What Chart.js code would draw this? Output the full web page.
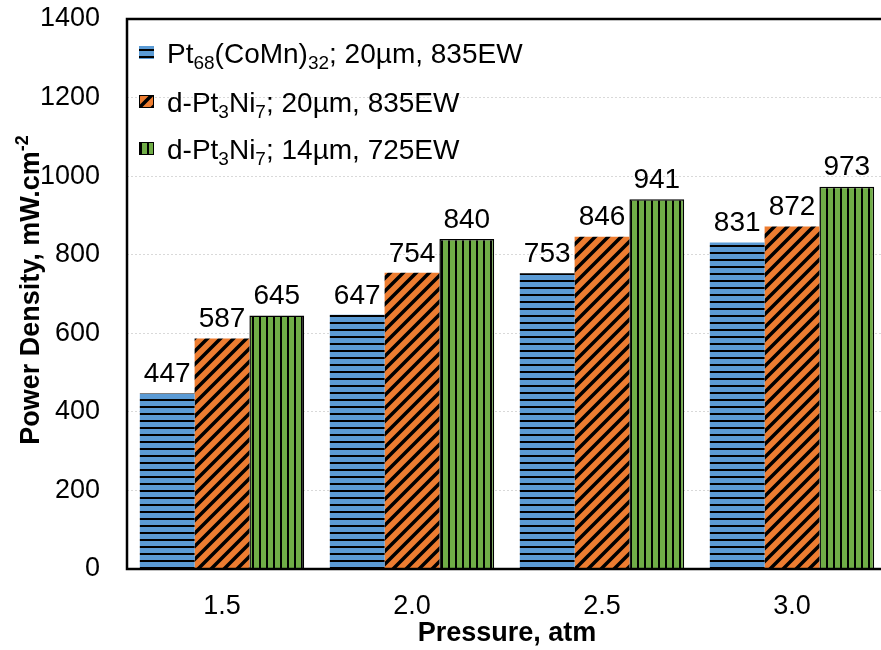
<!DOCTYPE html>
<html>
<head>
<meta charset="utf-8">
<script src="https://cdn.jsdelivr.net/npm/chart.js@4.4.0/dist/chart.umd.min.js"></script>
<style>
	body { margin: 0; overflow: hidden; background: #fff; }
	#wrap { width: 890px; height: 650px; }
</style>
</head>
<body>
<div id="wrap"><canvas id="power-chart"></canvas></div>
<script>
// data
const pressures = ['1.5', '2.0', '2.5', '3.0'];
const ptCoMn = [447, 647, 753, 831];
const ptNi20 = [587, 754, 846, 872];
const ptNi14 = [645, 840, 941, 973];
const yTicks = [0, 200, 400, 600, 800, 1000, 1200, 1400];

// legend text, [text, isSubscript]
const legendRows = [
	[['Pt', 0], ['68', 1], ['(CoMn)', 0], ['32', 1], ['; 20µm, 835EW', 0]],
	[['d-Pt', 0], ['3', 1], ['Ni', 0], ['7', 1], ['; 20µm, 835EW', 0]],
	[['d-Pt', 0], ['3', 1], ['Ni', 0], ['7', 1], ['; 14µm, 725EW', 0]]
];

const FONT = '"Liberation Sans", Arial, sans-serif';
const BLUE = '#5B9BD5';
const ORANGE = '#ED7D31';
const GREEN = '#70AD47';

// fill patterns like the excel ones
function makePattern(bg, kind) {
	const c = document.createElement('canvas');
	const x = c.getContext('2d');
	if (kind === 'h') {
		c.width = 8; c.height = 7;
		x.fillStyle = bg; x.fillRect(0, 0, 8, 7);
		x.fillStyle = '#000'; x.fillRect(0, 0, 8, 2);
	} else if (kind === 'v') {
		c.width = 7; c.height = 8;
		x.fillStyle = bg; x.fillRect(0, 0, 7, 8);
		x.fillStyle = '#000'; x.fillRect(0, 0, 2, 8);
	} else {
		c.width = 13; c.height = 13;
		x.fillStyle = bg; x.fillRect(0, 0, 13, 13);
		x.strokeStyle = '#000'; x.lineWidth = 3.5;
		x.beginPath();
		x.moveTo(-2, 15); x.lineTo(15, -2);
		x.moveTo(-8, 8); x.lineTo(8, -8);
		x.moveTo(5, 21); x.lineTo(21, 5);
		x.stroke();
	}
	return x.createPattern(c, 'repeat');
}

const patBlue = makePattern(BLUE, 'h');
const patOrange = makePattern(ORANGE, 'd');
const patGreen = makePattern(GREEN, 'v');

// labels above bars, border box, legend and y title
const extras = {
	id: 'extras',
	afterDatasetsDraw(chart) {
		const ctx = chart.ctx;
		const area = chart.chartArea;
		ctx.save();
		ctx.font = '28px ' + FONT;
		ctx.fillStyle = '#000';
		ctx.textAlign = 'center';
		ctx.textBaseline = 'bottom';
		chart.data.datasets.forEach((ds, i) => {
			chart.getDatasetMeta(i).data.forEach((bar, j) => {
				ctx.fillText(ds.data[j], bar.x, bar.y - 5);
			});
		});

		// plot frame
		ctx.strokeStyle = '#000';
		ctx.lineWidth = 2.5;
		ctx.strokeRect(area.left, area.top, area.right - area.left, area.bottom - area.top);

		// legend
		const pats = [patBlue, patOrange, patGreen];
		const rowY = [63, 112, 159];
		ctx.textAlign = 'left';
		ctx.textBaseline = 'alphabetic';
		legendRows.forEach((row, r) => {
			const by = rowY[r] - 17;
			ctx.fillStyle = pats[r];
			ctx.fillRect(139, by, 15, 13);
			if (r > 0) {
				ctx.strokeStyle = '#000';
				ctx.lineWidth = 1;
				ctx.strokeRect(139.5, by + 0.5, 14, 12);
			}
			let x = 167;
			ctx.fillStyle = '#000';
			row.forEach(([t, sub]) => {
				ctx.font = (sub ? '19px ' : '28px ') + FONT;
				ctx.fillText(t, x, rowY[r] + (sub ? 6 : 0));
				x += ctx.measureText(t).width;
			});
		});

		// y title with superscript
		ctx.translate(32, 290);
		ctx.rotate(-Math.PI / 2);
		const main = 'Power Density, mW.cm';
		const sup = '-2';
		ctx.font = 'bold 27px ' + FONT;
		const w1 = ctx.measureText(main).width;
		ctx.font = 'bold 18px ' + FONT;
		const w2 = ctx.measureText(sup).width;
		let sx = -(w1 + w2) / 2;
		ctx.textBaseline = 'middle';
		ctx.font = 'bold 27px ' + FONT;
		ctx.fillText(main, sx, 0);
		ctx.font = 'bold 18px ' + FONT;
		ctx.fillText(sup, sx + w1, -9);
		ctx.restore();
	}
};

const powerData = {
	labels: pressures,
	datasets: [
		{ data: ptCoMn, backgroundColor: patBlue, borderWidth: 0 },
		{ data: ptNi20, backgroundColor: patOrange, borderWidth: 0 },
		{ data: ptNi14, backgroundColor: patGreen, borderColor: '#000', borderWidth: 1.5 }
	]
};

const noPad = s => { s.paddingTop = 0; s.paddingBottom = 0; s.paddingLeft = 0; s.paddingRight = 0; };

const powerOptions = {
	responsive: true,
	maintainAspectRatio: false,
	animation: false,
	barPercentage: 1,
	categoryPercentage: 0.865,
	layout: {
		autoPadding: false,
		padding: { top: 19, right: 3, left: 0, bottom: 0 }
	},
	scales: {
		x: {
			grid: { display: false, drawTicks: false },
			border: { display: false },
			ticks: { color: '#000', font: { size: 27, family: FONT }, padding: 21 },
			title: {
				display: true,
				text: 'Pressure, atm',
				color: '#000',
				font: { size: 27, weight: 'bold', family: FONT },
				padding: { top: 0, bottom: 0 }
			},
			afterFit: s => { s.height = 81; noPad(s); }
		},
		y: {
			min: 0,
			max: 1400,
			afterBuildTicks: s => { s.ticks = yTicks.map(v => ({ value: v })); },
			grid: { color: '#d9d9d9', lineWidth: 1, drawTicks: false },
			border: { display: false, dash: [2, 2] },
			ticks: {
				color: '#000',
				font: { size: 27, family: FONT },
				padding: 27,
				callback: v => String(v)
			},
			afterFit: s => { s.width = 127; noPad(s); }
		}
	},
	plugins: {
		legend: { display: false },
		tooltip: { enabled: false }
	}
};

const powerChart = new Chart(document.getElementById('power-chart'), {
	type: 'bar',
	data: powerData,
	options: powerOptions,
	plugins: [extras]
});
</script>
</body>
</html>
